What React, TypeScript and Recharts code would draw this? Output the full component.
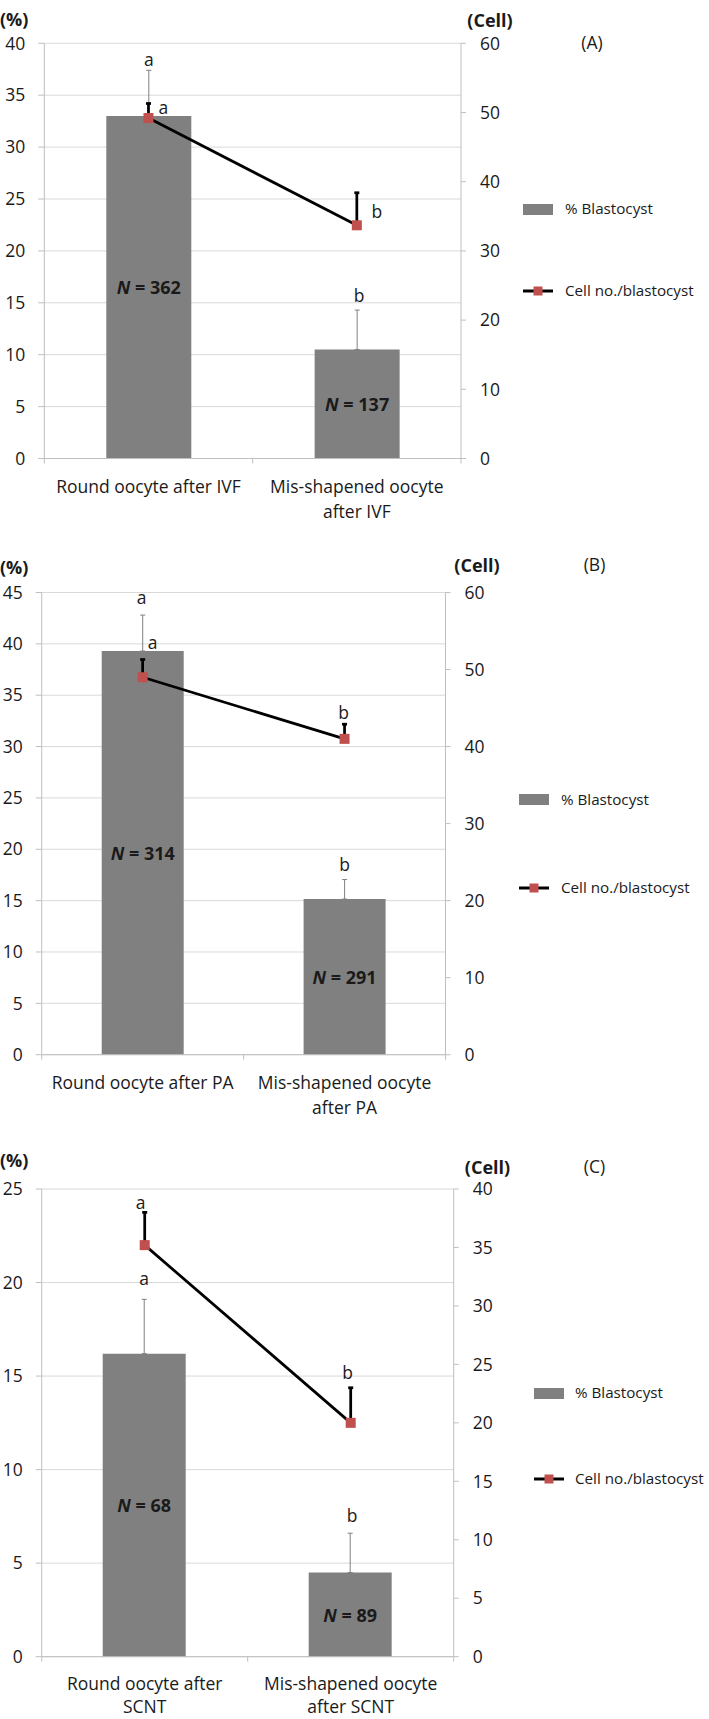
import React from 'react'
import {
    ComposedChart,
    Bar,
    Line,
    XAxis,
    YAxis,
    CartesianGrid,
    ErrorBar,
    LabelList,
} from 'recharts'

const FONT = '"Open Sans", "Noto Sans", sans-serif'
const TEXT = '#1a1a1a'
const GRID = '#d9d9d9'
const AXIS = '#bfbfbf'
const BAR = '#808080'
const MARKER = '#c0504d'
const FS = 17.5
const LEGEND_FS = 15.2

// (A) IVF
const ivfGroups = ['Round oocyte after IVF', 'Mis-shapened oocyte\nafter IVF']
const ivfBlast = [33.0, 10.5]
const ivfBlastErr = [4.4, 3.8]
const ivfCells = [49.2, 33.7]
const ivfCellsErr = [2.1, 4.7]
const ivfN = [362, 137]
const ivfBlastSig = ['a', 'b']
const ivfCellSig = ['a', 'b']

// (B) PA
const paGroups = ['Round oocyte after PA', 'Mis-shapened oocyte\nafter PA']
const paBlast = [39.3, 15.15]
const paBlastErr = [3.5, 1.9]
const paCells = [49.0, 41.0]
const paCellsErr = [2.3, 1.9]
const paN = [314, 291]
const paBlastSig = ['a', 'b']
const paCellSig = ['a', 'b']

// (C) SCNT
const scntGroups = ['Round oocyte after\nSCNT', 'Mis-shapened oocyte\nafter SCNT']
const scntBlast = [16.2, 4.5]
const scntBlastErr = [2.9, 2.1]
const scntCells = [35.2, 20.0]
const scntCellsErr = [2.8, 3.0]
const scntN = [68, 89]
const scntBlastSig = ['a', 'b']
const scntCellSig = ['a', 'b']

const ticks40 = [0, 5, 10, 15, 20, 25, 30, 35, 40]
const ticks45 = [0, 5, 10, 15, 20, 25, 30, 35, 40, 45]
const ticks25 = [0, 5, 10, 15, 20, 25]
const cellTicks60 = [0, 10, 20, 30, 40, 50, 60]
const cellTicks40 = [0, 5, 10, 15, 20, 25, 30, 35, 40]

const legendNames = ['% Blastocyst', 'Cell no./blastocyst']

// page layout for each panel
const layoutA = {
    top: 0, plotTop: 43.3, plotH: 415.2, left: 44.3, right: 461, barSize: 85,
    xAxisH: 75, xLabelDy: 27.5, xLabelGap: 25,
    legendRect: 523, legendText: 565, legendY: [209, 291],
    pctY: 19, cellX: 490, cellY: 20, tagX: 592, tagY: 43,
    barSigOff: [[0, -11.4], [2, -15]], cellSigOff: [[15, 3.3], [20, 18.4]],
}
const layoutB = {
    top: 540, plotTop: 592.5, plotH: 462.2, left: 41.7, right: 445.5, barSize: 82,
    xAxisH: 75, xLabelDy: 27.5, xLabelGap: 25,
    legendRect: 519, legendText: 561, legendY: [799.5, 887.7],
    pctY: 567, cellX: 477, cellY: 565, tagX: 594.5, tagY: 565,
    barSigOff: [[-1, -18.3], [0, -16]], cellSigOff: [[10, -17.6], [-1, -12.5]],
}
const layoutC = {
    top: 1140, plotTop: 1189, plotH: 467.7, left: 41.7, right: 453.7, barSize: 83,
    xAxisH: 62, xLabelDy: 26.8, xLabelGap: 23,
    legendRect: 534, legendText: 575, legendY: [1393, 1479],
    pctY: 1160, cellX: 487.5, cellY: 1167, tagX: 594.5, tagY: 1167,
    barSigOff: [[0, -21.7], [2, -17.8]], cellSigOff: [[-4, -10.6], [-3, -15.8]],
}

const W = 709
const RIGHT_AXIS_W = 60

function pos(p: any) {
    const vb = p.viewBox || {}
    return {
        x: p.x ?? vb.x ?? 0,
        y: p.y ?? vb.y ?? 0,
        width: p.width ?? vb.width ?? 0,
        height: p.height ?? vb.height ?? 0,
    }
}

function Panel({ tag, groups, blast, blastErr, cells, cellsErr, n, blastSig, cellSig, leftTicks, rightTicks, layout }: any) {
    const L = layout
    const rows = groups.map((g: string, i: number) => ({
        group: g,
        blast: blast[i],
        blastErr: [0, blastErr[i]],
        cells: cells[i],
        cellsErr: [0, cellsErr[i]],
        n: n[i],
    }))
    const leftMax = leftTicks[leftTicks.length - 1]
    const rightMax = rightTicks[rightTicks.length - 1]
    const pxLeft = L.plotH / leftMax
    const pxRight = L.plotH / rightMax
    const catW = (L.right - L.left) / groups.length
    const chartH = L.plotTop - L.top + L.plotH + L.xAxisH

    const xTick = (p: any) => {
        const lines = String(p.payload.value).split('\n')
        const half = catW / 2
        const last = p.index === groups.length - 1
        return (
            <g>
                <line x1={p.x - half} x2={p.x - half} y1={p.y} y2={p.y + 5} stroke={AXIS} />
                {last && <line x1={p.x + half} x2={p.x + half} y1={p.y} y2={p.y + 5} stroke={AXIS} />}
                <text x={p.x} y={p.y + L.xLabelDy} textAnchor="middle" dominantBaseline="central"
                      fontSize={FS} fontFamily={FONT} fill={TEXT}>
                    {lines.map((l, k) => (
                        <tspan key={k} x={p.x} dy={k === 0 ? 0 : L.xLabelGap} dominantBaseline="central">{l}</tspan>
                    ))}
                </text>
            </g>
        )
    }

    const nLabel = (p: any) => {
        const b = pos(p)
        return (
            <text x={b.x + b.width / 2} y={b.y + b.height / 2} textAnchor="middle" dominantBaseline="central"
                  fontSize={18} fontWeight="bold" fontFamily={FONT} fill={TEXT}>
                <tspan fontStyle="italic">N</tspan> = {p.value}
            </text>
        )
    }

    const barSigLabel = (p: any) => {
        const b = pos(p)
        const i = p.index
        const [dx, dy] = L.barSigOff[i]
        const errTop = b.y - blastErr[i] * pxLeft
        return (
            <text x={b.x + b.width / 2 + dx} y={errTop + dy} textAnchor="middle" dominantBaseline="central"
                  fontSize={FS} fontFamily={FONT} fill={TEXT}>{blastSig[i]}</text>
        )
    }

    const cellSigLabel = (p: any) => {
        const b = pos(p)
        const i = p.index
        const [dx, dy] = L.cellSigOff[i]
        const errTop = b.y - cellsErr[i] * pxRight
        return (
            <text x={b.x + dx} y={errTop + dy} textAnchor="middle" dominantBaseline="central"
                  fontSize={FS} fontFamily={FONT} fill={TEXT}>{cellSig[i]}</text>
        )
    }

    const squareDot = (p: any) => (
        <rect key={`dot-${p.index}`} x={p.cx - 5} y={p.cy - 5} width={10} height={10} fill={MARKER} />
    )

    const tickStyle = { fontSize: FS, fontFamily: FONT, fill: TEXT }
    const abs = (x: number, y: number, extra: any = {}) => ({
        position: 'absolute' as const, left: x, top: y, transform: 'translate(-50%, -50%)',
        fontFamily: FONT, color: TEXT, whiteSpace: 'nowrap' as const, lineHeight: 1, ...extra,
    })

    return (
        <>
            <div style={{ position: 'absolute', left: 0, top: L.top }}>
                <ComposedChart
                    width={W}
                    height={chartH}
                    data={rows}
                    margin={{ top: L.plotTop - L.top, right: W - L.right - RIGHT_AXIS_W, bottom: 0, left: 0 }}
                >
                    <CartesianGrid yAxisId="left" vertical={false} stroke={GRID} />
                    <XAxis dataKey="group" height={L.xAxisH} interval={0} axisLine={{ stroke: AXIS }}
                           tickLine={false} tickSize={0} tickMargin={0} tick={xTick} />
                    <YAxis yAxisId="left" width={L.left} domain={[0, leftMax]} ticks={leftTicks}
                           interval={0} axisLine={{ stroke: AXIS }} tickLine={{ stroke: AXIS }}
                           tickSize={6} tickMargin={13} tick={tickStyle} />
                    <YAxis yAxisId="right" orientation="right" width={RIGHT_AXIS_W} domain={[0, rightMax]}
                           ticks={rightTicks} interval={0} axisLine={{ stroke: AXIS }} tickLine={{ stroke: AXIS }}
                           tickSize={5} tickMargin={14} tick={tickStyle} />
                    <Bar yAxisId="left" dataKey="blast" fill={BAR} barSize={L.barSize} isAnimationActive={false}>
                        <ErrorBar dataKey="blastErr" direction="y" width={2.5} stroke={BAR} strokeWidth={1} />
                        <LabelList dataKey="n" content={nLabel} />
                        <LabelList dataKey="blast" content={barSigLabel} />
                    </Bar>
                    <Line yAxisId="right" dataKey="cells" stroke="#000" strokeWidth={2.75}
                          dot={squareDot} activeDot={false} isAnimationActive={false}>
                        <ErrorBar dataKey="cellsErr" direction="y" width={2.5} stroke="#000" strokeWidth={2.75} />
                        <LabelList dataKey="cells" content={cellSigLabel} />
                    </Line>
                </ComposedChart>
            </div>

            <div style={{ ...abs(0, L.pctY, { fontWeight: 'bold', fontSize: 18 }), transform: 'translateY(-50%)' }}>(%)</div>
            <div style={abs(L.cellX, L.cellY, { fontWeight: 'bold', fontSize: 18 })}>(Cell)</div>
            <div style={abs(L.tagX, L.tagY, { fontSize: FS })}>({tag})</div>

            <div style={{ position: 'absolute', left: L.legendRect, top: L.legendY[0] - 5.5, width: 30, height: 11, background: BAR }} />
            <div style={{ ...abs(L.legendText, L.legendY[0], { fontSize: LEGEND_FS }), transform: 'translateY(-50%)' }}>{legendNames[0]}</div>
            <svg style={{ position: 'absolute', left: L.legendRect, top: L.legendY[1] - 6 }} width={30} height={12}>
                <line x1={0} x2={30} y1={6} y2={6} stroke="#000" strokeWidth={3} />
                <rect x={10.5} y={1.5} width={9} height={9} fill={MARKER} />
            </svg>
            <div style={{ ...abs(L.legendText, L.legendY[1], { fontSize: LEGEND_FS }), transform: 'translateY(-50%)' }}>{legendNames[1]}</div>
        </>
    )
}

export default function App() {
    return (
        <div style={{ position: 'absolute', left: 0, top: 0, width: W, height: 1719, background: '#fff', overflow: 'hidden' }}>
            <style>{'svg.recharts-surface { overflow: visible; }'}</style>
            <Panel tag="A" groups={ivfGroups} blast={ivfBlast} blastErr={ivfBlastErr} cells={ivfCells}
                   cellsErr={ivfCellsErr} n={ivfN} blastSig={ivfBlastSig} cellSig={ivfCellSig}
                   leftTicks={ticks40} rightTicks={cellTicks60} layout={layoutA} />
            <Panel tag="B" groups={paGroups} blast={paBlast} blastErr={paBlastErr} cells={paCells}
                   cellsErr={paCellsErr} n={paN} blastSig={paBlastSig} cellSig={paCellSig}
                   leftTicks={ticks45} rightTicks={cellTicks60} layout={layoutB} />
            <Panel tag="C" groups={scntGroups} blast={scntBlast} blastErr={scntBlastErr} cells={scntCells}
                   cellsErr={scntCellsErr} n={scntN} blastSig={scntBlastSig} cellSig={scntCellSig}
                   leftTicks={ticks25} rightTicks={cellTicks40} layout={layoutC} />
        </div>
    )
}
